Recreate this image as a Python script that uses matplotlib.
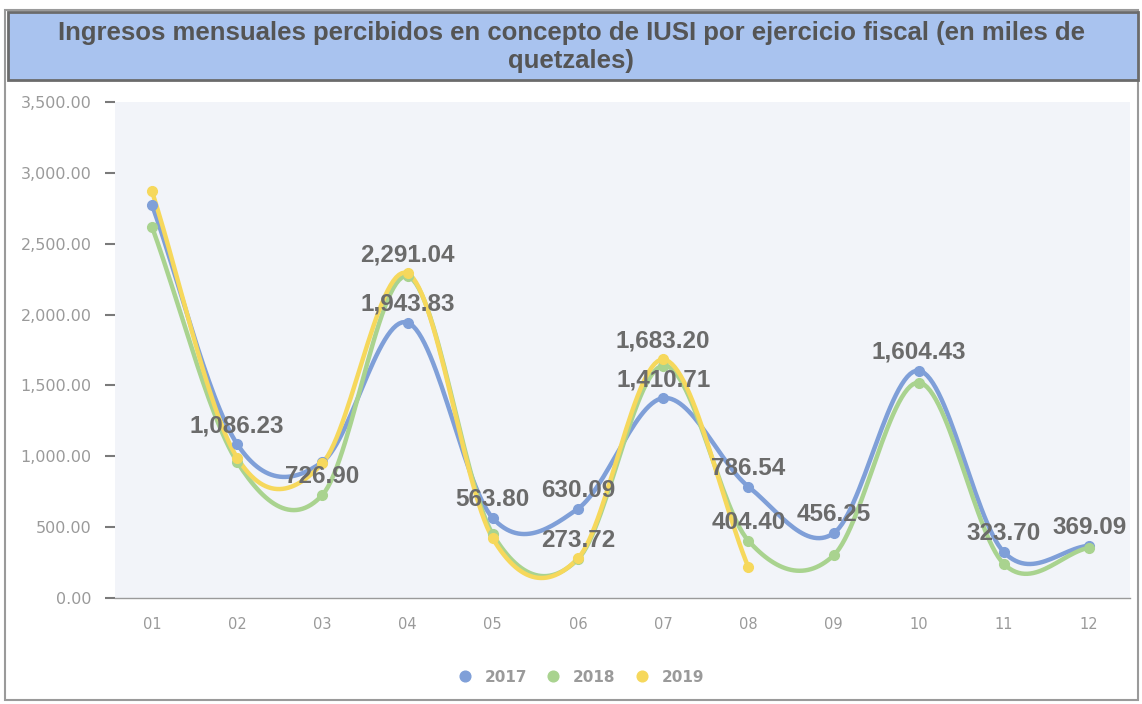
import numpy as np
import matplotlib
matplotlib.use("Agg")
import matplotlib.pyplot as plt
from matplotlib.patches import Rectangle

# ---------------- data ----------------
months = ["01", "02", "03", "04", "05", "06", "07", "08", "09", "10", "11", "12"]
v2017 = [2775, 1086.23, 960, 1943.83, 563.80, 630.09, 1410.71, 786.54, 456.25, 1604.43, 323.70, 369.09]
v2018 = [2620, 960, 726.90, 2270, 450, 273.72, 1640, 404.40, 300, 1520, 240, 355]
v2019 = [2870, 990, 950, 2291.04, 420, 280, 1683.20, 218]
series_names = ["2017", "2018", "2019"]
colors = ["#7f9fd8", "#a9d38f", "#f6d85c"]
yticks = [0, 500, 1000, 1500, 2000, 2500, 3000, 3500]
ytick_labels = ["0.00", "500.00", "1,000.00", "1,500.00", "2,000.00", "2,500.00", "3,000.00", "3,500.00"]
# data labels: (series index, month index)
labelled = [(0, 1), (1, 2), (2, 3), (0, 3), (0, 4), (0, 5), (1, 5), (2, 6), (0, 6),
            (0, 7), (1, 7), (0, 8), (0, 9), (0, 10), (0, 11)]
title = "Ingresos mensuales percibidos en concepto de IUSI por ejercicio fiscal (en miles de\nquetzales)"


def catmull_rom(x, y, n=30):
    x = np.asarray(x, float)
    y = np.asarray(y, float)
    m = np.zeros_like(y)
    m[1:-1] = (y[2:] - y[:-2]) / (x[2:] - x[:-2])
    m[0] = (y[1] - y[0]) / (x[1] - x[0])
    m[-1] = (y[-1] - y[-2]) / (x[-1] - x[-2])
    xs, ys = [], []
    for i in range(len(x) - 1):
        h = x[i + 1] - x[i]
        t = np.linspace(0, 1, n, endpoint=(i == len(x) - 2))
        h00 = 2 * t**3 - 3 * t**2 + 1
        h10 = t**3 - 2 * t**2 + t
        h01 = -2 * t**3 + 3 * t**2
        h11 = t**3 - t**2
        xs.append(x[i] + t * h)
        ys.append(h00 * y[i] + h10 * h * m[i] + h01 * y[i + 1] + h11 * h * m[i + 1])
    return np.concatenate(xs), np.concatenate(ys)


plt.rcParams["font.family"] = ["Liberation Sans", "DejaVu Sans"]

fig = plt.figure(figsize=(11.42, 7.04), dpi=100)
fig.patch.set_facecolor("white")

# outer frame
fig.add_artist(Rectangle((5 / 1142, 4 / 704), 1133 / 1142, 690 / 704, transform=fig.transFigure,
                         fill=False, edgecolor="#9a9a9a", linewidth=1.5))
# title band
fig.add_artist(Rectangle((8 / 1142, 1 - 80 / 704), 1130 / 1142, 68 / 704, transform=fig.transFigure,
                         facecolor="#a9c3ef", edgecolor="#6b6b6b", linewidth=2))
fig.text(0.5, 1 - 47 / 704, title, ha="center", va="center", fontsize=18.5, fontweight="bold",
         color="#555555", linespacing=1.2)

ax = fig.add_axes([115 / 1142, 1 - 598 / 704, 1015 / 1142, 496 / 704])
ax.set_facecolor("#f2f4f9")
for s in ["top", "right", "left"]:
    ax.spines[s].set_visible(False)
ax.spines["bottom"].set_color("#9a9a9a")
ax.spines["bottom"].set_linewidth(1)

xpos = np.arange(1, len(months) + 1)
all_series = [v2017, v2018, v2019]
for vals, col, name in zip(all_series, colors, series_names):
    xv = xpos[:len(vals)]
    sx, sy = catmull_rom(xv, vals)
    ax.plot(sx, sy, color=col, linewidth=3.2, solid_capstyle="round", zorder=3)
    ax.plot(xv, vals, "o", color=col, markersize=7, zorder=4, label=name)

for si, mi in labelled:
    val = all_series[si][mi]
    ax.annotate(f"{val:,.2f}", (xpos[mi], val), xytext=(0, 5), textcoords="offset points",
                ha="center", va="bottom", fontsize=17.5, fontweight="bold", color="#6b6b6b", zorder=6)

ax.set_xlim(0.566, 12.48)
ax.set_ylim(0, 3500)
ax.set_yticks(yticks)
ax.set_yticklabels(ytick_labels, family="DejaVu Sans")
ax.set_xticks(xpos)
ax.set_xticklabels(months, family="DejaVu Sans")
ax.tick_params(axis="y", length=7, width=1.5, color="#7a7a7a", labelcolor="#9a9a9a", labelsize=11.5, pad=10)
ax.tick_params(axis="x", length=0, labelcolor="#9a9a9a", labelsize=10.5, pad=14)

fig.legend(loc="center", bbox_to_anchor=(0.505, 1 - 677 / 704), ncol=3, frameon=False,
           prop={"weight": "bold", "size": 11, "family": "DejaVu Sans"}, labelcolor="#9a9a9a",
           handletextpad=0.3, columnspacing=0.7, markerscale=1.1)

fig.savefig("out.png", dpi=100)
